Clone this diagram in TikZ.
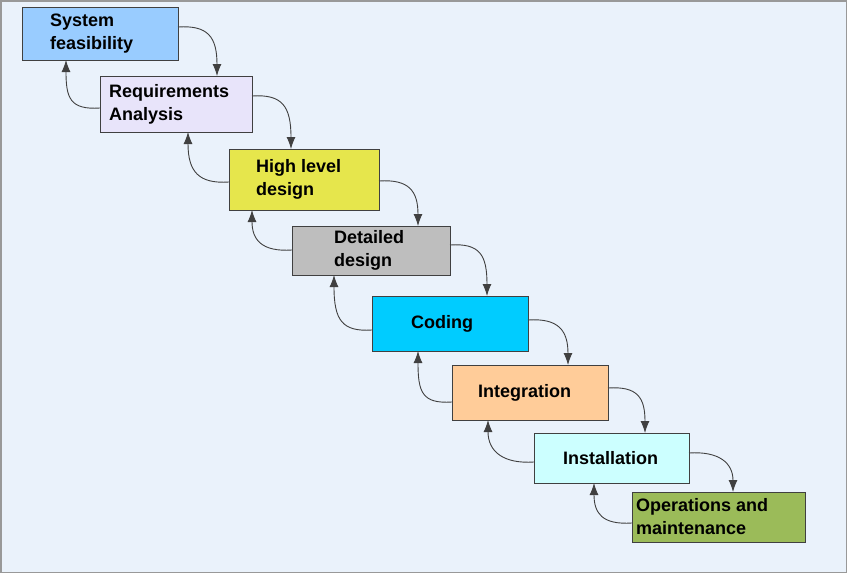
\documentclass[tikz,border=0pt]{standalone}
\usepackage{fontspec}
\setmainfont{Liberation Sans}
\usetikzlibrary{arrows.meta}
\definecolor{bg}{HTML}{EAF2FB}
\definecolor{c1}{HTML}{99CCFF}
\definecolor{c2}{HTML}{E8E4FA}
\definecolor{c3}{HTML}{E6E64C}
\definecolor{c4}{HTML}{BEBEBE}
\definecolor{c5}{HTML}{00CCFF}
\definecolor{c6}{HTML}{FFCC99}
\definecolor{c7}{HTML}{CCFFFF}
\definecolor{c8}{HTML}{9BBB59}
\begin{document}
\begin{tikzpicture}[x=1pt,y=-1pt,
  lbl/.style={anchor=west,align=left,font=\fontsize{18}{23}\selectfont\bfseries,inner sep=0pt},
  conn/.style={draw=black!75,line width=0.9pt,-{Latex[length=12pt,width=9pt]}}]
\fill[bg] (0,0) rectangle (847,573);
\draw[black!40,line width=1.5pt] (0.75,0.75) rectangle (846.25,572.25);
\newcommand\stage[8]{\fill[#7] (#2,#3) rectangle (#4,#5);
  \draw[black!75,line width=1pt] (#2,#3) rectangle (#4,#5);
  \coordinate (#1) at (#2,#3);
  \node[lbl] (#1t) at ({#2+#6},{(#3+#5)/2}) {#8};}
\stage{s1}{22}{7}{178}{60}{28}{c1}{System\\feasibility}
\stage{s2}{100}{76}{252}{132}{9}{c2}{Requirements\\Analysis}
\stage{s3}{229}{149}{379}{210}{27}{c3}{High level\\design}
\stage{s4}{292}{226}{450}{275}{42}{c4}{Detailed\\design}
\stage{s5}{372}{296}{528}{351}{39}{c5}{Coding}
\stage{s6}{452}{365}{608}{420}{26}{c6}{Integration}
\stage{s7}{534}{433}{689}{483}{29}{c7}{Installation}
\stage{s8}{632}{492}{805}{542}{4}{c8}{Operations and\\maintenance}
\newcommand\fwd[4]{\coordinate (fa) at (#1,#2); \coordinate (fb) at (#3,#4);
  \draw[conn] (fa) .. controls ({#1+30},{#2-2}) and (#3,{#2+10}) .. (fb);}
\newcommand\bwd[4]{\coordinate (ba) at (#1,#2); \coordinate (bb) at (#3,#4);
  \draw[conn] (ba) .. controls ({#1-30},{#2+2}) and (#3,{#2-10}) .. (bb);}
\fwd{178}{27}{217}{76}
\fwd{252}{96}{291}{149}
\fwd{379}{181}{418}{226}
\fwd{450}{245}{487}{296}
\fwd{528}{320}{568}{365}
\fwd{608}{388}{645}{433}
\fwd{689}{453}{733}{492}
\bwd{100}{108}{66}{60}
\bwd{229}{182}{188}{132}
\bwd{292}{250}{252}{210}
\bwd{372}{330}{334}{275}
\bwd{452}{402}{418}{351}
\bwd{534}{462}{488}{420}
\bwd{632}{523}{594}{483}
\end{tikzpicture}
\end{document}
